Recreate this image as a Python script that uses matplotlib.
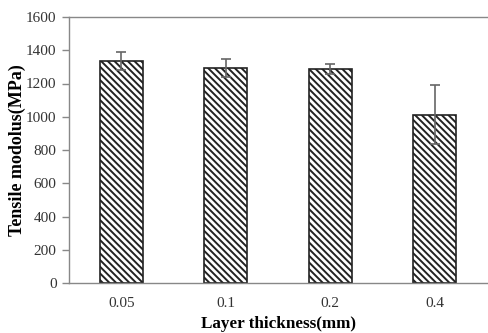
import matplotlib
matplotlib.use("Agg")
import matplotlib.pyplot as plt

categories = ["0.05", "0.1", "0.2", "0.4"]
modulus = [1335, 1293, 1287, 1012]
errors = [55, 54, 30, 178]
yticks = [0, 200, 400, 600, 800, 1000, 1200, 1400, 1600]

plt.rcParams['font.family'] = ['Liberation Serif', 'DejaVu Serif']
plt.rcParams['hatch.linewidth'] = 1.4
plt.rcParams['hatch.color'] = 'black'

fig = plt.figure(figsize=(4.88, 3.33), dpi=100)
ax = fig.add_axes([69/488, 50/333, 1 - 69/488 - 0.002, 266/333])

x = list(range(len(categories)))
ax.bar(x, modulus, width=0.41, color='white', edgecolor='#222222', linewidth=1.2,
       hatch='\\\\\\\\\\', zorder=2)
ax.errorbar(x, modulus, yerr=errors, fmt='none', ecolor='#666666', elinewidth=1.2,
            capsize=3.5, capthick=1.2, zorder=3)

ax.set_xlim(-0.5, 3.5)
ax.set_ylim(0, 1600)
ax.set_yticks(yticks)
ax.set_xticks(x)
ax.set_xticklabels(categories)
ax.tick_params(axis='x', length=0, pad=10, labelsize=11, colors='#333333')
ax.tick_params(axis='y', length=5, width=1, pad=4, labelsize=11, colors='#333333', color='#888888')

for s in ['left', 'bottom', 'top']:
    ax.spines[s].set_color('#888888')
    ax.spines[s].set_linewidth(1.0)
ax.spines['right'].set_visible(False)

ax.set_xlabel('Layer thickness(mm)', fontsize=12.3, fontweight='bold', labelpad=4.5)
ax.set_ylabel('Tensile modolus(MPa)', fontsize=13, fontweight='bold', labelpad=0)

fig.savefig('out.png', dpi=100)
